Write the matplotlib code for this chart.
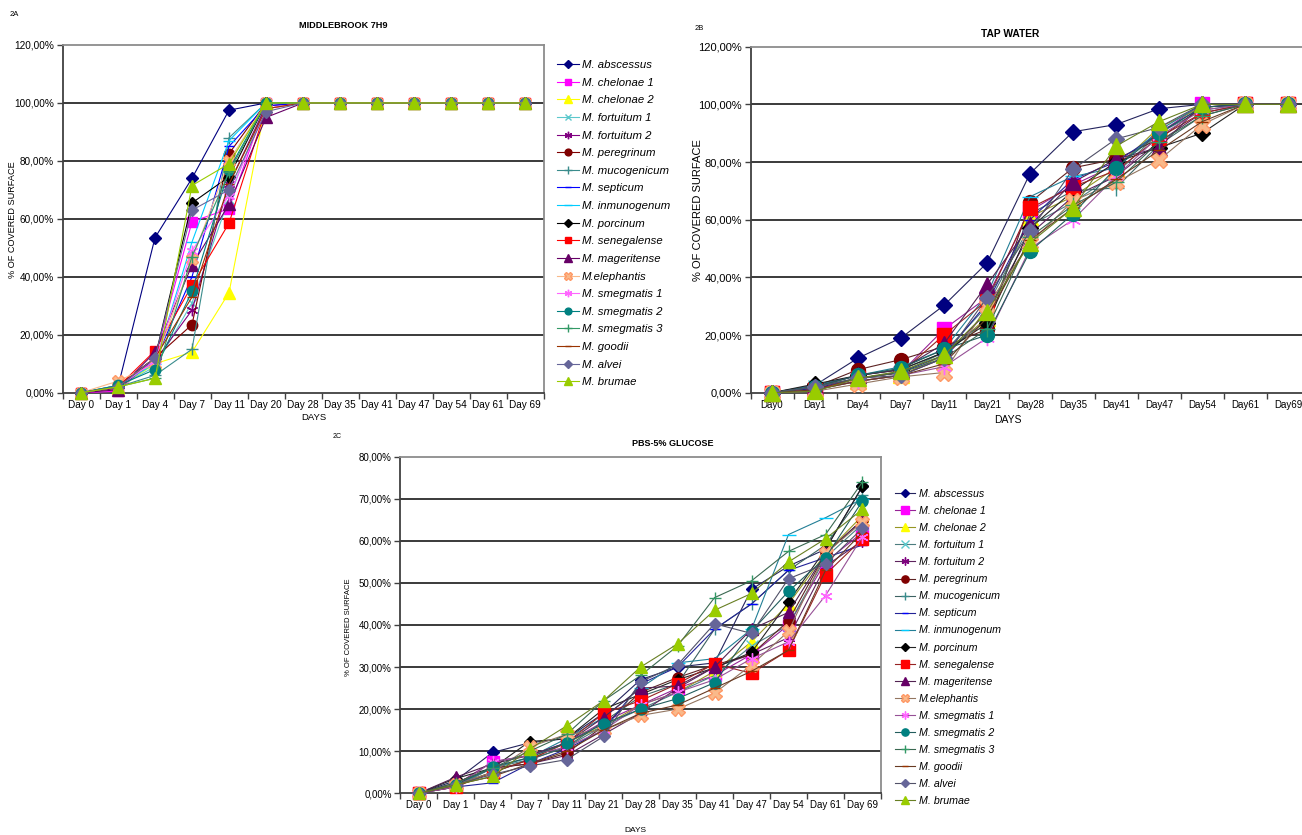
import numpy as np
import matplotlib
matplotlib.use("Agg")
import matplotlib.pyplot as plt
from matplotlib.ticker import FuncFormatter
from matplotlib.colors import to_rgb

plt.rcParams['font.family'] = ['Liberation Sans', 'DejaVu Sans']

# ---------------- data ----------------
species = ["M. abscessus", "M. chelonae 1", "M. chelonae 2", "M. fortuitum 1", "M. fortuitum 2",
           "M. peregrinum", "M. mucogenicum", "M. septicum", "M. inmunogenum", "M. porcinum",
           "M. senegalense", "M. mageritense", "M.elephantis", "M. smegmatis 1", "M. smegmatis 2",
           "M. smegmatis 3", "M. goodii", "M. alvei", "M. brumae"]

days_a = ["Day 0", "Day 1", "Day 4", "Day 7", "Day 11", "Day 20", "Day 28", "Day 35", "Day 41",
          "Day 47", "Day 54", "Day 61", "Day 69"]
days_b = ["Day0", "Day1", "Day4", "Day7", "Day11", "Day21", "Day28", "Day35", "Day41",
          "Day47", "Day54", "Day61", "Day69"]
days_c = ["Day 0", "Day 1", "Day 4", "Day 7", "Day 11", "Day 21", "Day 28", "Day 35", "Day 41",
          "Day 47", "Day 54", "Day 61", "Day 69"]

# 2A  MIDDLEBROOK 7H9 (% covered surface)
mid_abscessus   = [0, 2.0, 53.5, 74.0, 97.5, 100, 100, 100, 100, 100, 100, 100, 100]
mid_chelonae1   = [0, 0.5, 12.0, 59.0, 63.5, 100, 100, 100, 100, 100, 100, 100, 100]
mid_chelonae2   = [0, 1.5, 10.0, 14.0, 34.5, 100, 100, 100, 100, 100, 100, 100, 100]
mid_fortuitum1  = [0, 2.0, 9.0, 31.0, 67.0, 100, 100, 100, 100, 100, 100, 100, 100]
mid_fortuitum2  = [0, 1.5, 11.0, 28.5, 72.0, 99, 100, 100, 100, 100, 100, 100, 100]
mid_peregrinum  = [0, 2.5, 12.0, 23.5, 82.5, 100, 100, 100, 100, 100, 100, 100, 100]
mid_mucogenicum = [0, 2.0, 6.0, 15.0, 88.0, 100, 100, 100, 100, 100, 100, 100, 100]
mid_septicum    = [0, 2.0, 11.0, 40.0, 85.0, 99, 100, 100, 100, 100, 100, 100, 100]
mid_inmunogenum = [0, 2.5, 10.0, 52.0, 87.0, 100, 100, 100, 100, 100, 100, 100, 100]
mid_porcinum    = [0, 2.0, 12.0, 65.5, 74.5, 100, 100, 100, 100, 100, 100, 100, 100]
mid_senegalense = [0, 2.0, 14.5, 37.0, 58.5, 98, 100, 100, 100, 100, 100, 100, 100]
mid_mageritense = [0, 1.0, 14.0, 44.0, 65.0, 95, 100, 100, 100, 100, 100, 100, 100]
mid_elephantis  = [0, 4.0, 10.0, 46.0, 80.0, 100, 100, 100, 100, 100, 100, 100, 100]
mid_smegmatis1  = [0, 2.0, 11.0, 49.0, 68.0, 98, 100, 100, 100, 100, 100, 100, 100]
mid_smegmatis2  = [0, 2.5, 8.0, 35.0, 77.0, 100, 100, 100, 100, 100, 100, 100, 100]
mid_smegmatis3  = [0, 2.0, 5.0, 47.0, 76.0, 100, 100, 100, 100, 100, 100, 100, 100]
mid_goodii      = [0, 2.0, 12.0, 33.0, 72.0, 98, 100, 100, 100, 100, 100, 100, 100]
mid_alvei       = [0, 2.0, 12.0, 63.0, 70.0, 97, 100, 100, 100, 100, 100, 100, 100]
mid_brumae      = [0, 2.0, 5.0, 71.5, 79.0, 100, 100, 100, 100, 100, 100, 100, 100]

# 2B  TAP WATER
tap_abscessus   = [0, 2.6, 12.0, 19.0, 30.3, 45.0, 76.0, 90.5, 93.0, 98.5, 100, 100, 100]
tap_chelonae1   = [0, 1.0, 5.0, 7.0, 22.0, 33.0, 63.0, 72.0, 79.0, 90.0, 100, 100, 100]
tap_chelonae2   = [0, 1.0, 4.0, 6.0, 13.0, 26.0, 61.0, 68.0, 78.0, 92.0, 99, 100, 100]
tap_fortuitum1  = [0, 2.0, 5.0, 7.0, 14.0, 30.0, 58.0, 66.0, 76.0, 90.0, 98, 100, 100]
tap_fortuitum2  = [0, 1.5, 4.0, 6.0, 12.0, 28.0, 55.0, 68.0, 75.0, 87.0, 97, 100, 100]
tap_peregrinum  = [0, 2.0, 8.0, 11.5, 16.0, 22.0, 66.0, 78.0, 81.0, 88.0, 99, 100, 100]
tap_mucogenicum = [0, 2.0, 6.0, 8.0, 14.0, 25.0, 62.0, 70.0, 71.0, 86.0, 96, 100, 100]
tap_septicum    = [0, 1.5, 5.0, 7.0, 13.0, 31.0, 60.0, 74.0, 80.0, 90.0, 99, 100, 100]
tap_inmunogenum = [0, 2.5, 6.0, 9.0, 15.0, 34.0, 68.0, 75.0, 78.0, 91.0, 100, 100, 100]
tap_porcinum    = [0, 3.0, 6.0, 8.0, 14.0, 24.0, 57.0, 70.0, 80.0, 85.0, 90, 100, 100]
tap_senegalense = [0, 1.0, 5.0, 7.0, 20.0, 32.0, 64.0, 71.5, 77.0, 88.5, 97, 100, 100]
tap_mageritense = [0, 2.0, 6.0, 8.0, 17.0, 37.5, 58.0, 73.0, 81.0, 85.0, 100, 100, 100]
tap_elephantis  = [0, 0.5, 3.0, 5.5, 7.0, 30.0, 52.0, 66.5, 73.0, 80.7, 93, 100, 100]
tap_smegmatis1  = [0, 1.0, 4.0, 6.0, 9.0, 19.0, 50.0, 60.0, 75.0, 89.0, 98, 100, 100]
tap_smegmatis2  = [0, 2.0, 6.0, 8.5, 15.0, 20.0, 49.0, 62.0, 78.0, 90.0, 99, 100, 100]
tap_smegmatis3  = [0, 2.0, 5.0, 7.0, 12.0, 22.0, 54.0, 65.0, 73.0, 87.0, 96, 100, 100]
tap_goodii      = [0, 1.0, 4.0, 6.0, 10.0, 26.0, 53.0, 64.0, 74.0, 84.0, 94, 100, 100]
tap_alvei       = [0, 2.0, 5.0, 6.0, 12.0, 33.0, 56.0, 77.5, 88.0, 92.0, 100, 100, 100]
tap_brumae      = [0, 0.5, 5.0, 7.5, 13.0, 28.0, 52.0, 64.0, 85.5, 94.0, 100, 100, 100]

# 2C  PBS-5% GLUCOSE
pbs_abscessus   = [0, 3.0, 9.7, 12.0, 13.0, 19.0, 27.0, 30.0, 31.0, 48.5, 54.0, 58.0, 73.0]
pbs_chelonae1   = [0, 2.0, 7.5, 9.0, 12.0, 17.0, 21.0, 25.0, 28.0, 33.0, 40.0, 55.0, 62.0]
pbs_chelonae2   = [0, 2.0, 5.0, 8.0, 12.0, 16.0, 21.0, 24.0, 29.0, 36.0, 45.0, 57.0, 66.0]
pbs_fortuitum1  = [0, 1.5, 6.0, 8.0, 11.0, 16.0, 20.0, 24.0, 28.0, 35.0, 40.0, 56.0, 64.0]
pbs_fortuitum2  = [0, 2.0, 6.0, 7.0, 9.0, 14.0, 19.0, 25.0, 30.0, 33.0, 37.0, 54.0, 60.0]
pbs_peregrinum  = [0, 2.5, 6.0, 7.0, 9.5, 16.0, 24.0, 27.5, 30.5, 33.0, 41.0, 57.0, 65.0]
pbs_mucogenicum = [0, 2.0, 5.0, 8.0, 11.0, 17.0, 23.0, 26.0, 39.0, 45.0, 53.0, 59.0, 71.0]
pbs_septicum    = [0, 1.5, 2.5, 7.0, 10.5, 15.0, 26.0, 30.0, 39.0, 45.0, 53.0, 56.0, 59.0]
pbs_inmunogenum = [0, 2.0, 6.0, 8.5, 13.0, 18.0, 25.0, 31.0, 32.0, 39.0, 61.5, 65.5, 70.0]
pbs_porcinum    = [0, 3.5, 6.0, 12.3, 13.0, 20.0, 23.5, 27.0, 29.8, 33.5, 45.5, 58.0, 73.0]
pbs_senegalense = [0, 1.5, 5.0, 8.0, 12.0, 19.0, 22.0, 26.0, 30.8, 28.5, 34.0, 52.0, 60.5]
pbs_mageritense = [0, 3.8, 7.0, 9.0, 12.0, 18.0, 25.0, 25.5, 30.0, 39.0, 43.0, 57.0, 65.0]
pbs_elephantis  = [0, 2.0, 5.0, 11.0, 14.0, 15.0, 18.5, 20.0, 23.8, 30.5, 38.5, 57.0, 64.5]
pbs_smegmatis1  = [0, 1.5, 7.5, 9.0, 11.0, 15.0, 21.0, 24.0, 27.0, 32.0, 36.0, 47.0, 61.0]
pbs_smegmatis2  = [0, 2.0, 6.3, 8.5, 12.0, 16.5, 20.0, 22.5, 26.3, 38.5, 48.0, 56.0, 69.5]
pbs_smegmatis3  = [0, 2.5, 6.0, 10.0, 14.0, 22.0, 28.0, 35.0, 46.5, 50.5, 57.5, 61.5, 74.0]
pbs_goodii      = [0, 2.0, 4.0, 7.0, 10.0, 15.0, 19.0, 21.0, 25.0, 29.0, 34.0, 53.0, 62.0]
pbs_alvei       = [0, 2.0, 4.5, 6.5, 8.0, 13.5, 26.5, 30.5, 40.3, 38.0, 51.0, 54.5, 63.0]
pbs_brumae      = [0, 2.0, 4.0, 10.5, 16.0, 22.0, 30.0, 35.5, 43.5, 47.5, 55.0, 60.5, 67.5]

mid_series = [mid_abscessus, mid_chelonae1, mid_chelonae2, mid_fortuitum1, mid_fortuitum2,
              mid_peregrinum, mid_mucogenicum, mid_septicum, mid_inmunogenum, mid_porcinum,
              mid_senegalense, mid_mageritense, mid_elephantis, mid_smegmatis1, mid_smegmatis2,
              mid_smegmatis3, mid_goodii, mid_alvei, mid_brumae]
tap_series = [tap_abscessus, tap_chelonae1, tap_chelonae2, tap_fortuitum1, tap_fortuitum2,
              tap_peregrinum, tap_mucogenicum, tap_septicum, tap_inmunogenum, tap_porcinum,
              tap_senegalense, tap_mageritense, tap_elephantis, tap_smegmatis1, tap_smegmatis2,
              tap_smegmatis3, tap_goodii, tap_alvei, tap_brumae]
pbs_series = [pbs_abscessus, pbs_chelonae1, pbs_chelonae2, pbs_fortuitum1, pbs_fortuitum2,
              pbs_peregrinum, pbs_mucogenicum, pbs_septicum, pbs_inmunogenum, pbs_porcinum,
              pbs_senegalense, pbs_mageritense, pbs_elephantis, pbs_smegmatis1, pbs_smegmatis2,
              pbs_smegmatis3, pbs_goodii, pbs_alvei, pbs_brumae]

# ---------------- styles ----------------
ast = (6, 2, 0)
styles = [
    ('#000080', 'D', 0.8), ('#FF00FF', 's', 1.0), ('#FFFF00', '^', 1.1), ('#5CC8CC', 'x', 1.0),
    ('#800080', ast, 1.1), ('#800000', 'o', 1.0), ('#3A8C8C', '+', 1.1), ('#0000FF', '_', 0.9),
    ('#00CCFF', '_', 1.2), ('#000000', 'D', 0.8), ('#FF0000', 's', 1.0), ('#660066', '^', 1.1),
    ('#F9B98A', 'X', 1.2), ('#FF66FF', ast, 1.1), ('#008080', 'o', 1.0), ('#339966', '+', 1.1),
    ('#993300', '_', 0.9), ('#666699', 'D', 0.8), ('#99CC00', '^', 1.1),
]

W, H = 1302, 835
fig = plt.figure(figsize=(W / 100, H / 100), dpi=100)


def fx(px):
    return px / W


def fy(py):
    return 1 - py / H


def pct(v, _):
    return f"{v:.2f}".replace('.', ',') + '%'


def mix(c, g=0.55):
    r = np.array(to_rgb(c))
    return tuple(r * (1 - g) + np.array([0.25, 0.25, 0.25]) * g)


def make_panel(rect, series, labels, ymax, ystep, ms, gray_lines, ytick_fs, xtick_fs):
    ax = fig.add_axes(rect)
    x = np.arange(len(labels))
    handles = []
    for vals, (col, mk, scl) in zip(series, styles):
        lc = mix(col) if gray_lines else col
        ec = col
        fc = col
        if mk == 'X':
            ec = '#FF9966'
        h, = ax.plot(x, vals, color=lc, lw=0.8, marker=mk, markersize=ms * scl,
                     markerfacecolor=fc, markeredgecolor=ec, markeredgewidth=1.0,
                     clip_on=False, zorder=3)
        handles.append(h)
    ax.set_xlim(-0.5, len(labels) - 0.5)
    ax.set_ylim(0, ymax)
    yt = np.arange(0, ymax + 0.01, ystep)
    ax.set_yticks(yt)
    ax.yaxis.set_major_formatter(FuncFormatter(pct))
    for v in yt[1:-1]:
        ax.axhline(v, color='#3a3a3a', lw=1.4, zorder=1)
    ax.set_xticks(np.arange(-0.5, len(labels), 1))
    ax.set_xticklabels([])
    ax.set_xticks(x, minor=True)
    ax.set_xticklabels(labels, minor=True, fontsize=xtick_fs)
    ax.tick_params(axis='x', which='major', length=4, width=1, color='#404040', direction='out')
    ax.tick_params(axis='x', which='minor', length=0, pad=5)
    ax.tick_params(axis='y', length=4, width=1, color='#404040', labelsize=ytick_fs, pad=2)
    for s in ['left', 'bottom']:
        ax.spines[s].set_color('#404040')
        ax.spines[s].set_linewidth(1.3)
    for s in ['top', 'right']:
        ax.spines[s].set_color('#8c8c8c')
        ax.spines[s].set_linewidth(1.3)
    return ax, handles


# ---- 2A ----
axA, hA = make_panel([fx(62.5), fy(392.7), fx(481), (392.7 - 45) / H], mid_series, days_a,
                     120, 20, 7.5, False, 7.2, 7.2)
fig.text(fx(14), fy(15), "2A", fontsize=5.5, va='center', ha='center')
fig.text(fx(343), fy(26), "MIDDLEBROOK 7H9", fontsize=6.6, fontweight='bold', ha='center', va='center')
fig.text(fx(314), fy(417), "DAYS", fontsize=6.8, ha='center', va='center')
fig.text(fx(13), fy(220), "% OF COVERED SURFACE", fontsize=6.6, rotation=90, ha='center', va='center')
fig.legend(hA, species, loc='upper left', bbox_to_anchor=(fx(557), fy(60)), frameon=False,
           prop={'style': 'italic', 'size': 8.2}, handlelength=1.9, handletextpad=0.3,
           labelspacing=0.67, borderpad=0, borderaxespad=0, markerscale=0.65)

# ---- 2B ----
axB, hB = make_panel([fx(750.5), fy(392.7), fx(559), (392.7 - 46.7) / H], tap_series, days_b,
                     120, 20, 10.0, True, 8.0, 7.0)
fig.text(fx(699), fy(28), "2B", fontsize=5.5, va='center', ha='center')
fig.text(fx(1010), fy(34), "TAP WATER", fontsize=7.4, fontweight='bold', ha='center', va='center')
fig.text(fx(1008), fy(420), "DAYS", fontsize=7.5, ha='center', va='center')
fig.text(fx(698), fy(210), "% OF COVERED SURFACE", fontsize=8, rotation=90, ha='center', va='center')

# ---- 2C ----
axC, hC = make_panel([fx(400), fy(793.3), fx(481), (793.3 - 456.7) / H], pbs_series, days_c,
                     80, 10, 8.0, True, 7.0, 7.0)
fig.text(fx(337), fy(437), "2C", fontsize=5.0, va='center', ha='center')
fig.text(fx(673), fy(444), "PBS-5% GLUCOSE", fontsize=6.5, fontweight='bold', ha='center', va='center')
fig.text(fx(635), fy(830), "DAYS", fontsize=6.0, ha='center', va='center')
fig.text(fx(348), fy(627), "% OF COVERED SURFACE", fontsize=5.5, rotation=90, ha='center', va='center')
fig.legend(hC, species, loc='upper left', bbox_to_anchor=(fx(895), fy(489)), frameon=False,
           prop={'style': 'italic', 'size': 7.7}, handlelength=1.9, handletextpad=0.3,
           labelspacing=0.66, borderpad=0, borderaxespad=0, markerscale=0.65)

fig.savefig("out.png", dpi=100, facecolor='white')
